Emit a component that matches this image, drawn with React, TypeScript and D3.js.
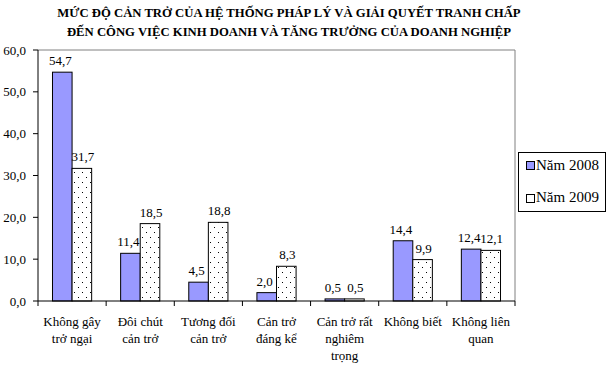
import * as d3 from "d3";

const title = [
  "MỨC ĐỘ CẢN TRỞ CỦA HỆ THỐNG PHÁP LÝ VÀ GIẢI QUYẾT TRANH CHẤP",
  "ĐẾN CÔNG VIỆC KINH DOANH VÀ TĂNG TRƯỞNG CỦA DOANH NGHIỆP",
];
const categories = [
  ["Không gây", "trở ngại"],
  ["Đôi chút", "cản trở"],
  ["Tương đối", "cản trở"],
  ["Cản trở", "đáng kể"],
  ["Cản trở rất", "nghiêm", "trọng"],
  ["Không biết"],
  ["Không liên", "quan"],
];
const values2008 = [54.7, 11.4, 4.5, 2.0, 0.5, 14.4, 12.4];
const values2009 = [31.7, 18.5, 18.8, 8.3, 0.5, 9.9, 12.1];
const seriesNames = ["Năm 2008", "Năm 2009"];
const yTicks = [0, 10, 20, 30, 40, 50, 60];

const W = 611;
const H = 365;
const left = 38;
const right = 515;
const top = 50;
const bottom = 301;
const font = '"Liberation Serif", "Times New Roman", serif';

const fmt = (v: number) => d3.format(".1f")(v).replace(".", ",");

export default function App() {
  const idx = categories.map((_, i) => i);
  const x = d3.scaleBand<number>().domain(idx).range([left, right]).padding(0);
  const xs = d3
    .scaleBand<number>()
    .domain([0, 1])
    .range([0, x.bandwidth()])
    .paddingInner(0)
    .paddingOuter(0.74);
  const y = d3.scaleLinear().domain([0, 60]).range([bottom, top]);
  const series = [values2008, values2009];
  const fills = ["#9999FF", "url(#dots)"];

  return (
    <svg
      width={W}
      height={H}
      style={{ position: "absolute", left: 0, top: 0, background: "#fff", fontFamily: font }}
    >
      <defs>
        <pattern id="dots" width={8} height={10} patternUnits="userSpaceOnUse">
          <rect width={8} height={10} fill="#fff" />
          <rect x={2} y={2} width={1} height={1} fill="#000" />
          <rect x={6} y={7} width={1} height={1} fill="#000" />
        </pattern>
      </defs>

      {title.map((t, i) => (
        <text
          key={i}
          x={289}
          y={17 + i * 19}
          textAnchor="middle"
          fontSize={12.7}
          fontWeight="bold"
        >
          {t}
        </text>
      ))}

      {/* plot border */}
      <path
        d={`M${left},${top}H${right}V${bottom}`}
        fill="none"
        stroke="#808080"
        strokeWidth={1}
      />

      {/* y axis */}
      <line x1={left} x2={left} y1={top} y2={bottom} stroke="#000" />
      {yTicks.map((t) => (
        <g key={t}>
          <line x1={left - 5} x2={left} y1={y(t)} y2={y(t)} stroke="#000" />
          <text x={left - 12} y={y(t) + 4.5} textAnchor="end" fontSize={13}>
            {fmt(t)}
          </text>
        </g>
      ))}

      {/* bars */}
      {series.map((vals, s) =>
        vals.map((v, i) => {
          const bx = (x(i) as number) + (xs(s) as number);
          return (
            <g key={`${s}-${i}`}>
              <rect
                x={bx}
                y={y(v)}
                width={xs.bandwidth()}
                height={bottom - y(v)}
                fill={fills[s]}
                stroke="#000"
                strokeWidth={1}
              />
              <text
                x={bx + xs.bandwidth() / 2 + (s === 0 ? -2 : 1)}
                y={y(v) - 7}
                textAnchor="middle"
                fontSize={13}
              >
                {fmt(v)}
              </text>
            </g>
          );
        })
      )}

      {/* x axis */}
      <line x1={left} x2={right} y1={bottom} y2={bottom} stroke="#000" />
      {[...idx, idx.length].map((i) => {
        const tx = i < idx.length ? (x(i) as number) : right;
        return (
          <line key={i} x1={tx} x2={tx} y1={bottom} y2={bottom + 5} stroke="#000" />
        );
      })}
      {categories.map((lines, i) => {
        const cx = (x(i) as number) + x.bandwidth() / 2;
        return (
          <text key={i} x={cx} textAnchor="middle" fontSize={13}>
            {lines.map((l, j) => (
              <tspan key={j} x={cx} y={326 + j * 17}>
                {l}
              </tspan>
            ))}
          </text>
        );
      })}

      {/* legend */}
      <rect x={518.5} y={152.5} width={87} height={59} fill="#fff" stroke="#000" />
      {seriesNames.map((n, i) => (
        <g key={n}>
          <rect
            x={526.5}
            y={161.5 + i * 33}
            width={8}
            height={8}
            fill={fills[i]}
            stroke="#000"
          />
          <text x={536} y={170 + i * 32} fontSize={15}>
            {n}
          </text>
        </g>
      ))}
    </svg>
  );
}
